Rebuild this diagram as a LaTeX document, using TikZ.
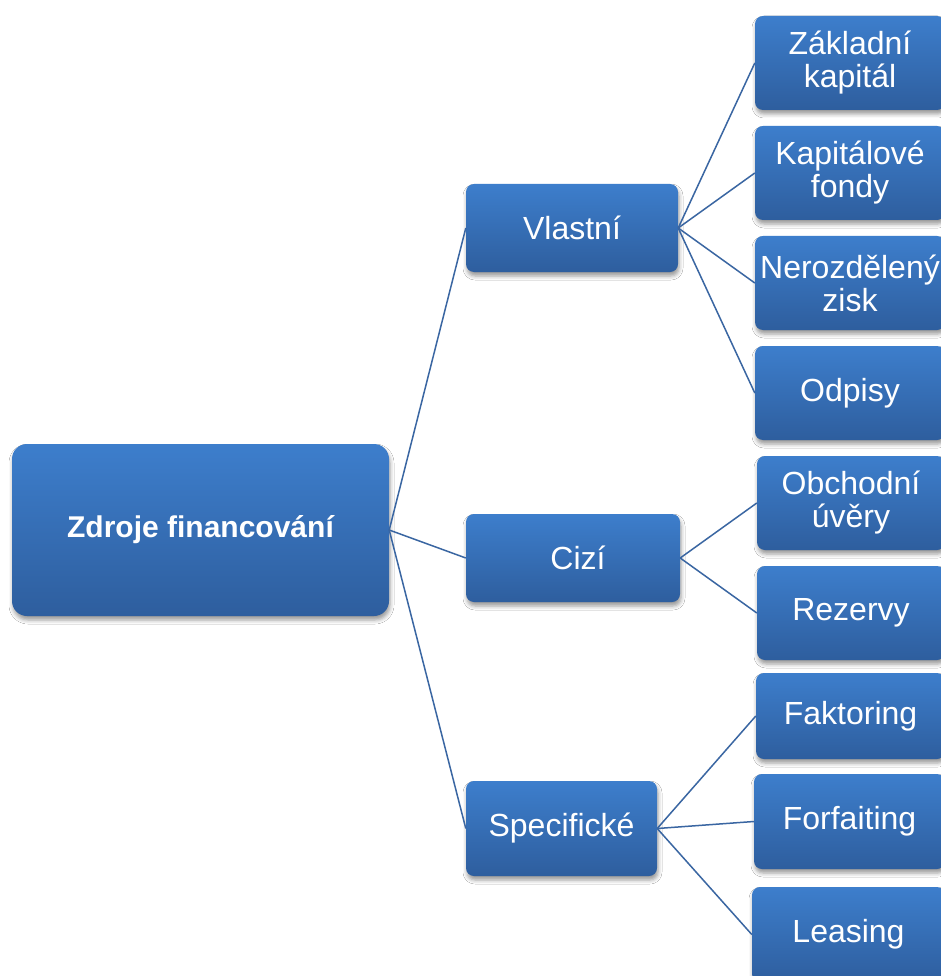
\documentclass[tikz,border=0pt]{standalone}
\usepackage{fontspec}
\setmainfont{Liberation Sans}
\usetikzlibrary{shadows.blur}

\definecolor{boxtop}{RGB}{61,126,204}
\definecolor{boxbot}{RGB}{46,94,158}
\definecolor{linkcol}{RGB}{58,102,162}

\tikzset{
  box/.style={rounded corners=8pt, top color=boxtop, bottom color=boxbot,
    draw=none, text=white, align=center, inner sep=0pt,
    font=\fontsize{32}{33}\selectfont,
    blur shadow={shadow xshift=1pt, shadow yshift=-4pt,
      shadow blur radius=4pt, shadow opacity=40}},
  rootbox/.style={box, rounded corners=15pt, font=\fontsize{30}{33}\selectfont\bfseries},
  link/.style={draw=linkcol, line width=1.5pt}
}

\begin{document}
\begin{tikzpicture}[x=1pt,y=-1pt]
  \clip (0,0) rectangle (941,976);
  \fill[white] (0,0) rectangle (941,976);

  % root
  \node[rootbox, minimum width=377pt, minimum height=172pt] (root) at (200.5,530) {Zdroje financování};

  % second level
  \node[box, minimum width=212pt, minimum height=88pt] (vl) at (572,228) {Vlastní};
  \node[box, minimum width=214pt, minimum height=88pt] (ci) at (573,558) {\hspace{10pt}Cizí};
  \node[box, minimum width=191pt, minimum height=95pt] (sp) at (561.5,828.5) {Specifické};

  % leaves
  \node[box, minimum width=190pt, minimum height=94pt] (zk) at (850,63) {Základní\\kapitál};
  \node[box, minimum width=190pt, minimum height=94pt] (kf) at (850,173) {Kapitálové\\fondy};
  \node[box, minimum width=190pt, minimum height=94pt] (nz) at (850,283) {Nerozdělený\\zisk};
  \node[box, minimum width=190pt, minimum height=94pt] (od) at (850,393) {\raisebox{-2pt}{Odpisy}};
  \node[box, minimum width=188pt, minimum height=94pt] (ou) at (851,503) {Obchodní\\úvěry};
  \node[box, minimum width=188pt, minimum height=94pt] (re) at (851,613) {\raisebox{-2pt}{Rezervy}};
  \node[box, minimum width=189pt, minimum height=86pt] (fa) at (850.5,716) {Faktoring};
  \node[box, minimum width=191pt, minimum height=95pt] (fo) at (849.5,821.5) {Forfaiting};
  \node[box, minimum width=193pt, minimum height=95pt] (le) at (848.5,934.5) {Leasing};

  % connectors
  \draw[link] (root.east) -- (vl.west);
  \draw[link] (root.east) -- (ci.west);
  \draw[link] (root.east) -- (sp.west);
  \foreach \t in {zk,kf,nz,od} \draw[link] (vl.east) -- (\t.west);
  \foreach \t in {ou,re} \draw[link] (ci.east) -- (\t.west);
  \foreach \t in {fa,fo,le} \draw[link] (sp.east) -- (\t.west);
\end{tikzpicture}
\end{document}
